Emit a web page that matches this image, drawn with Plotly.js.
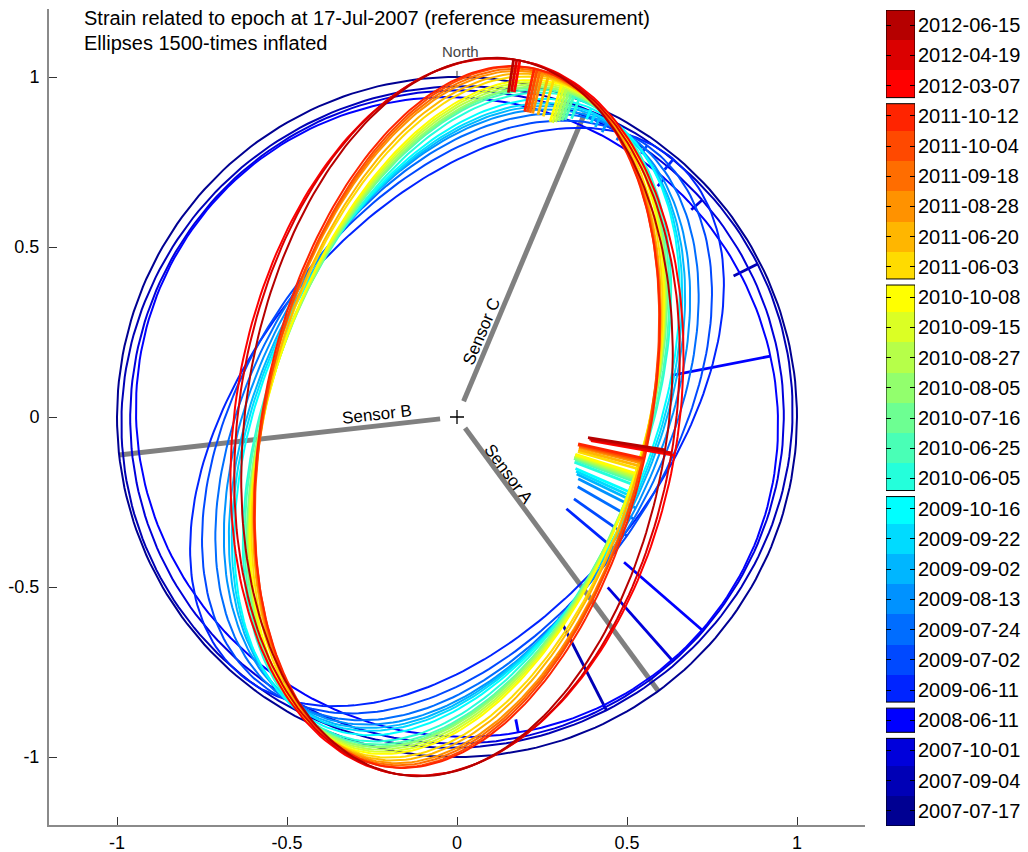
<!DOCTYPE html>
<html>
<head>
<meta charset="utf-8">
<script src="https://cdn.plot.ly/plotly-3.0.1.min.js"></script>
<style>
  html, body { margin: 0; padding: 0; background: #fff; }
  #chart { width: 1028px; height: 852px; }
</style>
</head>
<body>
<div id="chart"></div>
<script>
// Measurement epochs, oldest first
const epochs = [
  '2007-07-17', '2007-09-04', '2007-10-01',
  '2008-06-11',
  '2009-06-11', '2009-07-02', '2009-07-24', '2009-08-13', '2009-09-02', '2009-09-22', '2009-10-16',
  '2010-06-05', '2010-06-25', '2010-07-16', '2010-08-05', '2010-08-27', '2010-09-15', '2010-10-08',
  '2011-06-03', '2011-06-20', '2011-08-28', '2011-09-18', '2011-10-04', '2011-10-12',
  '2012-03-07', '2012-04-19', '2012-06-15'
];

// Strain ellipse of each epoch (1500x inflated, unit circle = no strain)
// direction of the first principal axis, degrees counter-clockwise from east
const axisAngle = [
  0, 27, 41.5,
  49,
  50, 55, 60, 63, 64.5, 65.5, 66.5,
  69, 70, 70.5, 71, 71.5, 72, 72.5,
  74, 75, 76, 76.5, 77, 77.5,
  80, 80.5, 81
];
// radius along the first principal axis
const semiAxis1 = [
  1.000, 0.992, 0.963,
  0.930,
  0.990, 0.975, 0.970, 0.970, 0.975, 0.980, 0.990,
  1.000, 1.005, 1.010, 1.010, 1.015, 1.020, 1.025,
  1.030, 1.035, 1.040, 1.045, 1.050, 1.050,
  1.065, 1.065, 1.065
];
// radius along the second principal axis (first axis - 90 deg)
const semiAxis2 = [
  1.000, 0.968, 0.959,
  0.955,
  0.600, 0.610, 0.600, 0.590, 0.580, 0.575, 0.570,
  0.555, 0.555, 0.550, 0.550, 0.550, 0.550, 0.550,
  0.555, 0.555, 0.560, 0.560, 0.560, 0.565,
  0.650, 0.640, 0.620
];
// inner ends of the principal-axis marks (outer end lies on the ellipse)
const mark1Inner = [
  1.000, 0.913, 0.920,
  0.900,
  0.950, 0.945, 0.940, 0.940, 0.945, 0.950, 0.955,
  0.940, 0.930, 0.925, 0.920, 0.915, 0.910, 0.910,
  0.920, 0.920, 0.920, 0.920, 0.920, 0.920,
  0.970, 0.970, 0.966
];
const mark2Inner = [
  1.000, 0.661, 0.669,
  0.651,
  0.420, 0.420, 0.410, 0.400, 0.390, 0.385, 0.380,
  0.370, 0.370, 0.365, 0.365, 0.365, 0.365, 0.365,
  0.370, 0.370, 0.370, 0.370, 0.365, 0.365,
  0.400, 0.395, 0.390
];
// further marks: epoch index, direction (deg), inner end
const extraMarkEpoch = [3, 3];
const extraMarkAngle = [11, -79];
const extraMarkInner = [0.643, 0.906];

// jet colour per epoch
const epochColors = [
  '#000092', '#0000B6', '#0000DB',
  '#0000FF',
  '#0024FF', '#0049FF', '#006DFF', '#0092FF', '#00B6FF', '#00DBFF', '#00FFFF',
  '#24FFDB', '#49FFB6', '#6DFF92', '#92FF6D', '#B6FF49', '#DBFF24', '#FFFF00',
  '#FFDB00', '#FFB600', '#FF9200', '#FF6D00', '#FF4900', '#FF2400',
  '#FF0000', '#DB0000', '#B60000'
];

// Strain sensors
const sensorNames = ['Sensor A', 'Sensor B', 'Sensor C'];
const sensorAzimuth = [-53.7, 186.4, 67.2];
const sensorInner = [0.04, 0.05, 0.05];
const sensorOuter = [1.0, 1.0, 0.97];
const sensorLabelX = [0.153, -0.235, 0.072];
const sensorLabelY = [-0.168, 0.006, 0.252];

const D = Math.PI / 180;
const FONT = '"Liberation Sans", Arial, Helvetica, sans-serif';

function ellipseRadius(i, deg) {
  const d = (deg - axisAngle[i]) * D;
  const c = Math.cos(d) / semiAxis1[i], s = Math.sin(d) / semiAxis2[i];
  return 1 / Math.sqrt(c * c + s * s);
}

function ellipsePoints(i) {
  const f = axisAngle[i] * D;
  const ux = Math.cos(f), uy = Math.sin(f), vx = Math.sin(f), vy = -Math.cos(f);
  const xs = [], ys = [];
  for (let k = 0; k <= 240; k++) {
    const t = k * 2 * Math.PI / 240;
    const c = Math.cos(t), s = Math.sin(t);
    xs.push(semiAxis1[i] * c * ux + semiAxis2[i] * s * vx);
    ys.push(semiAxis1[i] * c * uy + semiAxis2[i] * s * vy);
  }
  return { xs, ys };
}

function radialSegment(deg, r0, r1) {
  const c = Math.cos(deg * D), s = Math.sin(deg * D);
  return { xs: [r0 * c, r1 * c], ys: [r0 * s, r1 * s] };
}

const traces = [];

// sensor directions
sensorAzimuth.forEach((az, k) => {
  const seg = radialSegment(az, sensorInner[k], sensorOuter[k]);
  traces.push({
    type: 'scatter', mode: 'lines', x: seg.xs, y: seg.ys,
    line: { color: '#808080', width: 5 }, hoverinfo: 'skip', showlegend: false
  });
});

// ellipses with their principal-axis marks, oldest first
epochs.forEach((ep, i) => {
  const e = ellipsePoints(i);
  traces.push({
    type: 'scatter', mode: 'lines', x: e.xs, y: e.ys, name: ep,
    line: { color: epochColors[i], width: 2 }, hoverinfo: 'skip', showlegend: false
  });
  const mx = [], my = [];
  const a1 = axisAngle[i], a2 = axisAngle[i] - 90;
  [[a1, mark1Inner[i]], [a2, mark2Inner[i]]].forEach(([ang, r0]) => {
    const r1 = ellipseRadius(i, ang);
    if (Math.abs(r1 - r0) < 1e-3) return;
    const seg = radialSegment(ang, r0, r1);
    mx.push(seg.xs[0], seg.xs[1], null);
    my.push(seg.ys[0], seg.ys[1], null);
  });
  extraMarkEpoch.forEach((ei, k) => {
    if (ei !== i) return;
    const seg = radialSegment(extraMarkAngle[k], extraMarkInner[k], ellipseRadius(i, extraMarkAngle[k]));
    mx.push(seg.xs[0], seg.xs[1], null);
    my.push(seg.ys[0], seg.ys[1], null);
  });
  if (mx.length) {
    traces.push({
      type: 'scatter', mode: 'lines', x: mx, y: my, connectgaps: false,
      line: { color: epochColors[i], width: 2.8 }, hoverinfo: 'skip', showlegend: false
    });
  }
});

// north mark and centre
traces.push({
  type: 'scatter', mode: 'lines', x: [0, 0], y: [0.998, 1.018],
  line: { color: '#333', width: 1 }, hoverinfo: 'skip', showlegend: false
});
traces.push({
  type: 'scatter', mode: 'markers', x: [0], y: [0],
  marker: { symbol: 'cross-thin', size: 10, line: { color: '#000', width: 1.3 } },
  hoverinfo: 'skip', showlegend: false
});

// colour key
const idx = epochs.map((_, i) => i);
traces.push({
  type: 'bar', orientation: 'h', xaxis: 'x2', yaxis: 'y2',
  y: idx, x: idx.map(() => 1), base: 0, width: 1,
  marker: { color: epochColors, line: { width: 0 } },
  hoverinfo: 'skip', showlegend: false
});
traces.push({
  type: 'scatter', mode: 'markers', xaxis: 'x2', yaxis: 'y3',
  x: [0.5], y: [0], marker: { opacity: 0 }, hoverinfo: 'skip', showlegend: false
});

// year groups in the key
const years = epochs.map(e => e.slice(0, 4));
const groups = [];
years.forEach((y, i) => {
  if (i === 0 || y !== years[i - 1]) groups.push([i, i]);
  else groups[groups.length - 1][1] = i;
});
const gap = 0.1;
const shapes = [];
groups.forEach(([lo, hi], g) => {
  if (g > 0) {
    shapes.push({
      type: 'rect', xref: 'x2', yref: 'y2', x0: -0.2, x1: 1.2, y0: lo - 0.5 - gap, y1: lo - 0.5 + gap,
      fillcolor: '#fff', line: { width: 0 }, layer: 'above'
    });
  }
});
groups.forEach(([lo, hi], g) => {
  shapes.push({
    type: 'rect', xref: 'x2', yref: 'y2', x0: 0, x1: 1,
    y0: lo - 0.5 + (g > 0 ? gap : 0), y1: hi + 0.5 - (g < groups.length - 1 ? gap : 0),
    fillcolor: 'rgba(0,0,0,0)', line: { color: '#000', width: 1 }, layer: 'above'
  });
});

const annotations = [
  { text: 'Strain related to epoch at 17-Jul-2007 (reference measurement)', x: -1.103, y: 1.173 },
  { text: 'Ellipses 1500-times inflated', x: -1.103, y: 1.099 }
].map(a => ({
  xref: 'x', yref: 'y', x: a.x, y: a.y, text: a.text, showarrow: false,
  xanchor: 'left', yanchor: 'middle', font: { family: FONT, size: 20, color: '#000' }
}));
annotations.push({
  xref: 'x', yref: 'y', x: 0.01, y: 1.074, text: 'North', showarrow: false,
  xanchor: 'center', yanchor: 'middle', font: { family: FONT, size: 15, color: '#444' }
});
const sensorTilt = [53.7, -6.4, -67.2];
sensorNames.forEach((n, k) => {
  annotations.push({
    xref: 'x', yref: 'y', x: sensorLabelX[k], y: sensorLabelY[k], text: n, showarrow: false,
    textangle: sensorTilt[k], xanchor: 'center', yanchor: 'middle',
    font: { family: FONT, size: 17, color: '#000' }
  });
});

const axisCommon = {
  range: [-1.2, 1.2], tickmode: 'array', tickvals: [-1, -0.5, 0, 0.5, 1],
  ticktext: ['-1', '-0.5', '0', '0.5', '1'],
  ticks: 'inside', ticklen: 8, tickwidth: 1, tickcolor: '#333',
  showline: true, linecolor: '#8a8a8a', linewidth: 2, mirror: false,
  showgrid: false, zeroline: false, fixedrange: true,
  tickfont: { family: FONT, size: 18, color: '#000' }
};

const keyTicks = {
  range: [-0.5, epochs.length - 0.5], tickmode: 'array', tickvals: idx,
  ticks: 'inside', ticklen: 5, tickwidth: 1, tickcolor: '#000',
  showline: false, showgrid: false, zeroline: false, fixedrange: true
};

const layout = {
  width: 1028, height: 852,
  margin: { l: 0, r: 0, t: 0, b: 0 },
  paper_bgcolor: '#fff', plot_bgcolor: '#fff',
  bargap: 0,
  xaxis: Object.assign({}, axisCommon, { domain: [49 / 1028, 865 / 1028], anchor: 'y', ticklabelstandoff: 0 }),
  yaxis: Object.assign({}, axisCommon, { domain: [1 - 825 / 852, 1 - 9 / 852], anchor: 'x', ticklabelstandoff: 4 }),
  xaxis2: { domain: [886 / 1028, 915 / 1028], anchor: 'y2', range: [0, 1], showticklabels: false, ticks: '',
            showline: false, showgrid: false, zeroline: false, fixedrange: true },
  yaxis2: Object.assign({}, keyTicks, { domain: [1 - 826 / 852, 1 - 10 / 852], anchor: 'x2', side: 'right',
            ticktext: epochs, tickfont: { family: FONT, size: 20, color: '#000' }, ticklabelstandoff: 2 }),
  yaxis3: Object.assign({}, keyTicks, { overlaying: 'y2', anchor: 'x2', side: 'left', showticklabels: false }),
  shapes: shapes,
  annotations: annotations,
  showlegend: false
};

Plotly.newPlot('chart', traces, layout, { staticPlot: true, displayModeBar: false });
</script>
</body>
</html>
